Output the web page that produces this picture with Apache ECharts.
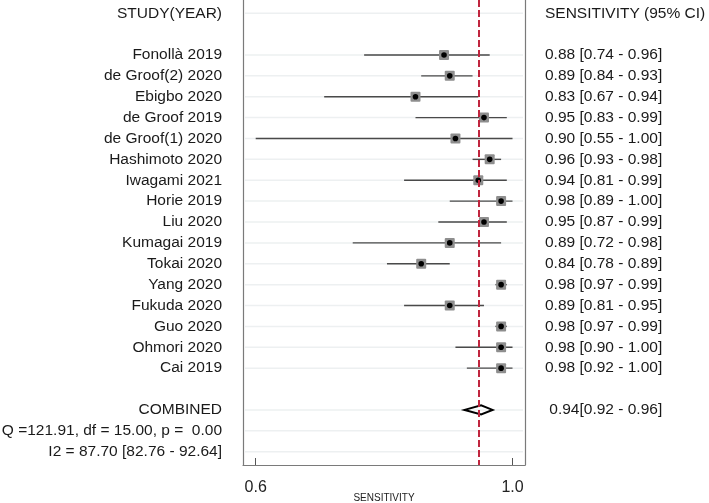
<!DOCTYPE html>
<html>
<head>
<meta charset="utf-8">
<script src="https://cdn.jsdelivr.net/npm/echarts@6/dist/echarts.min.js"></script>
<style>
  html, body { margin: 0; padding: 0; background: #fff; }
  #main { width: 709px; height: 503px; }
</style>
</head>
<body>
<div id="main"></div>
<script>
// forest plot data (sensitivity, 95% CI)
var studies = ['Fonollà 2019', 'de Groof(2) 2020', 'Ebigbo 2020', 'de Groof 2019', 'de Groof(1) 2020',
    'Hashimoto 2020', 'Iwagami 2021', 'Horie 2019', 'Liu 2020', 'Kumagai 2019', 'Tokai 2020',
    'Yang 2020', 'Fukuda 2020', 'Guo 2020', 'Ohmori 2020', 'Cai 2019'];
var sens  = [0.88, 0.89, 0.83, 0.95, 0.90, 0.96, 0.94, 0.98, 0.95, 0.89, 0.84, 0.98, 0.89, 0.98, 0.98, 0.98];
var lower = [0.74, 0.84, 0.67, 0.83, 0.55, 0.93, 0.81, 0.89, 0.87, 0.72, 0.78, 0.97, 0.81, 0.97, 0.90, 0.92];
var upper = [0.96, 0.93, 0.94, 0.99, 1.00, 0.98, 0.99, 1.00, 0.99, 0.98, 0.89, 0.99, 0.95, 0.99, 1.00, 1.00];

// pooled estimate as drawn, and its printed text
var pooled = [0.945, 0.916, 0.965];
var pooledText = ' 0.94[0.92 - 0.96]';
var statsText = ['Q =121.91, df = 15.00, p =  0.00', 'I2 = 87.70 [82.76 - 92.64]'];

// x axis ticks (Stata prints the min 0.55 as 0.6)
var xTicks = [0.55, 1.0];
var xTickLabels = ['0.6', '1.0'];

var FONT = "'Liberation Sans', Arial, sans-serif";

// rows: 0 header, 1 blank, 2..17 studies, 18 blank, 19 combined, 20-21 stats
var leftLabels = ['STUDY(YEAR)', ''].concat(studies, ['', 'COMBINED'], statsText);
var rightLabels = ['SENSITIVITY (95% CI)', ''];
for (var i = 0; i < studies.length; i++) {
    rightLabels.push(sens[i].toFixed(2) + ' [' + lower[i].toFixed(2) + ' - ' + upper[i].toFixed(2) + ']');
}
rightLabels.push('', pooledText, '', '');

var labelRows = [];
for (var r = 0; r < leftLabels.length; r++) {
    if (leftLabels[r] !== '') labelRows.push(r);
}

var studyData = [];
for (var j = 0; j < studies.length; j++) {
    studyData.push([sens[j], j + 2, lower[j], upper[j]]);
}

var yMin = -0.634, yMax = 21.64;

var myChart = echarts.init(document.getElementById('main'));
var option = {
    animation: false,
    textStyle: { fontFamily: FONT },
    grid: { left: 243, right: 184, top: 0, bottom: 38, outerBoundsMode: 'none', containLabel: false },
    xAxis: {
        type: 'value',
        min: 0.52775,
        max: 1.02188,
        name: 'SENSITIVITY',
        nameLocation: 'middle',
        nameGap: 28,
        nameMoveOverlap: false,
        nameTextStyle: { fontSize: 10, color: '#222', fontFamily: FONT },
        axisLine: { show: true, onZero: false, lineStyle: { color: '#7a7a7a', width: 1.2 } },
        axisTick: { show: true, inside: true, customValues: xTicks, length: 7, lineStyle: { color: '#555' } },
        axisLabel: {
            customValues: xTicks,
            margin: 15,
            fontSize: 16,
            color: '#222',
            fontFamily: FONT,
            formatter: function (v) {
                var k = xTicks.indexOf(v);
                return k >= 0 ? xTickLabels[k] : '';
            }
        },
        splitLine: { show: false }
    },
    yAxis: [{
        type: 'value',
        min: yMin,
        max: yMax,
        inverse: true,
        position: 'left',
        axisLine: { show: true, onZero: false, lineStyle: { color: '#7a7a7a', width: 1.2 } },
        axisTick: { show: false },
        splitLine: { show: false },
        axisLabel: {
            customValues: labelRows,
            margin: 21,
            fontSize: 15.5,
            color: '#1a1a1a',
            fontFamily: FONT,
            formatter: function (v) { return leftLabels[Math.round(v)]; }
        }
    }, {
        type: 'value',
        min: yMin,
        max: yMax,
        inverse: true,
        position: 'right',
        axisLine: { show: true, onZero: false, lineStyle: { color: '#7a7a7a', width: 1.2 } },
        axisTick: { show: false },
        splitLine: { show: false },
        axisLabel: {
            customValues: labelRows,
            margin: 20,
            fontSize: 15.5,
            color: '#1a1a1a',
            fontFamily: FONT,
            formatter: function (v) { return rightLabels[Math.round(v)]; }
        }
    }],
    series: [{
        // light row lines
        type: 'custom',
        z: 1,
        data: labelRows.map(function (r) { return [pooled[0], r]; }),
        renderItem: function (params, api) {
            var cs = params.coordSys;
            var y = api.coord([api.value(0), api.value(1)])[1];
            return {
                type: 'line',
                shape: { x1: cs.x + 2, y1: y, x2: cs.x + cs.width - 2, y2: y },
                style: { stroke: '#edf0f1', lineWidth: 1.5 }
            };
        },
        markLine: {
            silent: true,
            symbol: 'none',
            label: { show: false },
            lineStyle: { color: '#c0253e', width: 2, type: [7, 3] },
            data: [{ xAxis: pooled[0] }]
        }
    }, {
        // study estimates with CI
        type: 'custom',
        z: 3,
        data: studyData,
        renderItem: function (params, api) {
            var y = api.value(1);
            var p = api.coord([api.value(0), y]);
            var lo = api.coord([api.value(2), y]);
            var hi = api.coord([api.value(3), y]);
            return {
                type: 'group',
                children: [{
                    type: 'line',
                    shape: { x1: lo[0], y1: p[1], x2: hi[0], y2: p[1] },
                    style: { stroke: '#4a4a4a', lineWidth: 1.4 }
                }, {
                    type: 'rect',
                    shape: { x: p[0] - 5, y: p[1] - 5, width: 10, height: 10, r: 1 },
                    style: { fill: '#8e8e8e' }
                }, {
                    type: 'circle',
                    shape: { cx: p[0], cy: p[1], r: 2.8 },
                    style: { fill: '#000' }
                }]
            };
        }
    }, {
        // pooled diamond
        type: 'custom',
        z: 4,
        data: [[pooled[0], 19, pooled[1], pooled[2]]],
        renderItem: function (params, api) {
            var y = api.value(1);
            var c = api.coord([api.value(0), y]);
            var l = api.coord([api.value(2), y]);
            var h = api.coord([api.value(3), y]);
            return {
                type: 'polygon',
                shape: { points: [[l[0], c[1]], [c[0], c[1] - 4.5], [h[0], c[1]], [c[0], c[1] + 4.5]] },
                style: { fill: 'none', stroke: '#000', lineWidth: 2 }
            };
        }
    }]
};
myChart.setOption(option);
</script>
</body>
</html>
